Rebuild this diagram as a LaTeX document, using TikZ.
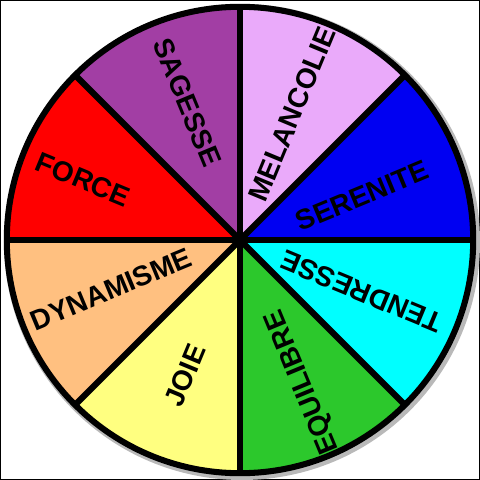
\documentclass[tikz,border=0pt]{standalone}
\usepackage{fontspec}
\setmainfont{Liberation Sans}
\definecolor{sagesse}{RGB}{162,62,164}
\definecolor{melancolie}{RGB}{234,170,250}
\definecolor{serenite}{RGB}{0,0,242}
\definecolor{tendresse}{RGB}{0,255,255}
\definecolor{equilibre}{RGB}{44,200,44}
\definecolor{joie}{RGB}{255,255,128}
\definecolor{dynamisme}{RGB}{255,192,128}
\definecolor{force}{RGB}{255,0,0}
\tikzset{
  word/.style={font=\fontsize{20}{24}\selectfont\bfseries, inner sep=0pt},
  rim/.style={line width=4.3pt}
}

\begin{document}
\begin{tikzpicture}

        \useasboundingbox (-6,-6) rectangle (6,6);
        \draw[line width=1pt] (-5.985,-5.985) rectangle (5.985,5.985);
        \coordinate (o) at (0,0);

            % Shadow:
            \fill[gray!55] (0.05,-0.05) circle (5.95);

            % Sectors:
            \fill[serenite]   (o) -- (0:5.83)   arc (0:45:5.83)    -- cycle;
            \fill[melancolie] (o) -- (45:5.83)  arc (45:90:5.83)   -- cycle;
            \fill[sagesse]    (o) -- (90:5.83)  arc (90:135:5.83)  -- cycle;
            \fill[force]      (o) -- (135:5.83) arc (135:180:5.83) -- cycle;
            \fill[dynamisme]  (o) -- (180:5.83) arc (180:225:5.83) -- cycle;
            \fill[joie]       (o) -- (225:5.83) arc (225:270:5.83) -- cycle;
            \fill[equilibre]  (o) -- (270:5.83) arc (270:315:5.83) -- cycle;
            \fill[tendresse]  (o) -- (315:5.83) arc (315:360:5.83) -- cycle;

            % Dividers:
            \draw[rim] (180:5.83) -- (0:5.83);
            \draw[rim] (270:5.83) -- (90:5.83);
            \draw[rim] (225:5.83) -- (45:5.83);
            \draw[rim] (135:5.83) -- (315:5.83);
            \draw[rim] (o) circle (5.83);

            % Labels:
            \node[word, rotate=-67.5] (sagesse) at (111:3.68) {SAGESSE};
            \node[word, rotate=67.5] (melancolie) at (67.5:3.4) {MELANCOLIE};
            \node[word, rotate=22.5] (serenite) at (20:3.25) {SERENITE};
            \node[word, rotate=157.5] (tendresse) at (-23:3.3) {TENDRESSE};
            \node[word, rotate=112.5] (equilibre) at (-66:3.88) {EQUILIBRE};
            \node[word, rotate=67.5] (joie) at (-112:3.65) {JOIE};
            \node[word, rotate=22.5] (dynamisme) at (201:3.45) {DYNAMISME};
            \node[word, rotate=-22.5] (force) at (159:4.2) {FORCE};
\end{tikzpicture}
\end{document}
